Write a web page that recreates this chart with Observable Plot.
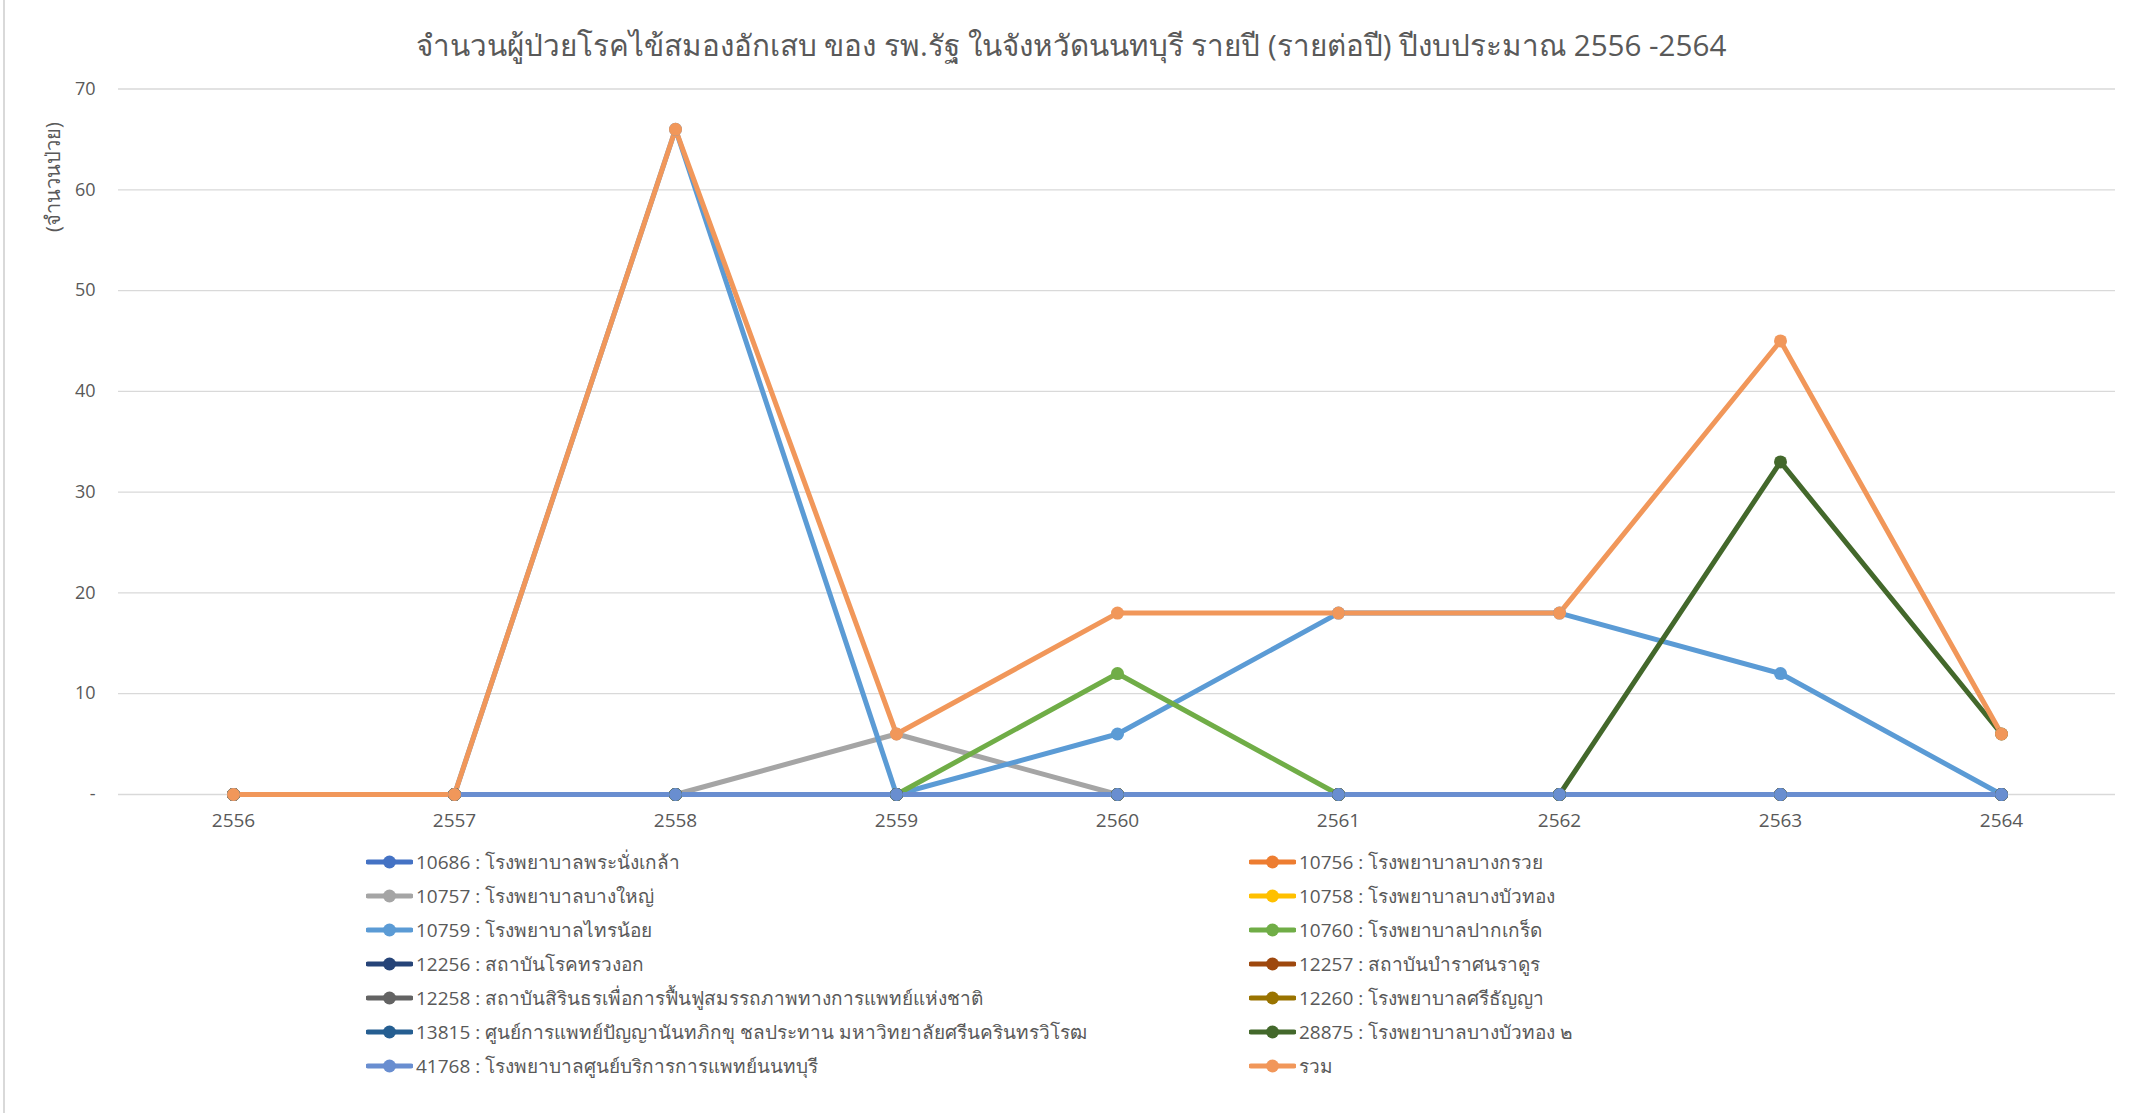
<!DOCTYPE html>
<html>
<head>
<meta charset="utf-8">
<script src="https://cdn.jsdelivr.net/npm/d3@7"></script>
<script src="https://cdn.jsdelivr.net/npm/@observablehq/plot@0.6"></script>
<style>
  html, body { margin: 0; padding: 0; background: #fff; }
  body { width: 2136px; height: 1113px; position: relative; overflow: hidden;
         font-family: "Open Sans", "Noto Sans", sans-serif; color: #595959; }
  #border { position: absolute; left: 3px; top: 0; width: 2px; height: 1113px; background: #d9d9d9; }
  #chart { position: absolute; left: 0; top: 0; }
  #title { position: absolute; left: 0; width: 2142px; top: 25px; text-align: center;
           font-size: 29.6px; line-height: 40px; white-space: nowrap; color: #595959; }
  #ytitle { position: absolute; left: 53px; top: 177px; transform: translate(-50%, -50%) rotate(-90deg);
            font-size: 20px; white-space: nowrap; color: #595959; }
  .leg { position: absolute; display: flex; align-items: center; height: 30px; white-space: nowrap;
         font-size: 19px; color: #595959; }
  .leg svg { display: block; margin-right: 3px; }
</style>
</head>
<body>
<div id="border"></div>
<div id="chart"></div>
<div id="title"></div>
<div id="ytitle"></div>
<div id="legend"></div>
<script>
// ---- data ----
const titleText = "จำนวนผู้ป่วยโรคไข้สมองอักเสบ ของ รพ.รัฐ ในจังหวัดนนทบุรี รายปี (รายต่อปี) ปีงบประมาณ 2556 -2564";
const yAxisTitle = "(จำนวนป่วย)";
const years = [2556, 2557, 2558, 2559, 2560, 2561, 2562, 2563, 2564];
const yTicks = [0, 10, 20, 30, 40, 50, 60, 70];

const seriesNames = [
  "10686 : โรงพยาบาลพระนั่งเกล้า",
  "10756 : โรงพยาบาลบางกรวย",
  "10757 : โรงพยาบาลบางใหญ่",
  "10758 : โรงพยาบาลบางบัวทอง",
  "10759 : โรงพยาบาลไทรน้อย",
  "10760 : โรงพยาบาลปากเกร็ด",
  "12256 : สถาบันโรคทรวงอก",
  "12257 : สถาบันบำราศนราดูร",
  "12258 : สถาบันสิรินธรเพื่อการฟื้นฟูสมรรถภาพทางการแพทย์แห่งชาติ",
  "12260 : โรงพยาบาลศรีธัญญา",
  "13815 : ศูนย์การแพทย์ปัญญานันทภิกขุ ชลประทาน มหาวิทยาลัยศรีนครินทรวิโรฒ",
  "28875 : โรงพยาบาลบางบัวทอง ๒",
  "41768 : โรงพยาบาลศูนย์บริการการแพทย์นนทบุรี",
  "รวม"
];

const v10686 = [0, 0, 0, 0, 0, 0, 0, 0, 0];
const v10756 = [0, 0, 0, 0, 0, 0, 0, 0, 0];
const v10757 = [0, 0, 0, 6, 0, 0, 0, 0, 0];
const v10758 = [0, 0, 0, 0, 0, 0, 0, 0, 0];
const v10759 = [0, 0, 66, 0, 6, 18, 18, 12, 0];
const v10760 = [0, 0, 0, 0, 12, 0, 0, 0, 0];
const v12256 = [0, 0, 0, 0, 0, 0, 0, 0, 0];
const v12257 = [0, 0, 0, 0, 0, 0, 0, 0, 0];
const v12258 = [0, 0, 0, 0, 0, 0, 0, 0, 0];
const v12260 = [0, 0, 0, 0, 0, 0, 0, 0, 0];
const v13815 = [0, 0, 0, 0, 0, 0, 0, 0, 0];
const v28875 = [0, 0, 0, 0, 0, 0, 0, 33, 6];
const v41768 = [0, 0, 0, 0, 0, 0, 0, 0, 0];
const vTotal = [0, 0, 66, 6, 18, 18, 18, 45, 6];

const seriesValues = [v10686, v10756, v10757, v10758, v10759, v10760, v12256,
                      v12257, v12258, v12260, v13815, v28875, v41768, vTotal];

// ---- styles ----
const seriesColors = ["#4472C4", "#ED7D31", "#A5A5A5", "#FFC000", "#5B9BD5", "#70AD47", "#264478",
                      "#9E480E", "#636363", "#997300", "#255E91", "#43682B", "#698ED0", "#F1975A"];

const rows = [];
seriesNames.forEach((name, i) => {
  seriesValues[i].forEach((v, j) => rows.push({series: name, year: years[j], value: v}));
});

const chart = Plot.plot({
  width: 2136,
  height: 850,
  marginTop: 88.5,
  marginBottom: 56,
  marginLeft: 118,
  marginRight: 21,
  style: {fontFamily: "'Open Sans', 'Noto Sans', sans-serif", background: "transparent"},
  x: {type: "point", domain: years, range: [229, 2004], padding: 0},
  y: {domain: [0, 70]},
  color: {domain: seriesNames, range: seriesColors},
  marks: [
    Plot.gridY(yTicks, {stroke: "#d9d9d9", strokeOpacity: 1, strokeWidth: 1.3}),
    Plot.axisY(yTicks, {tickSize: 0, tickPadding: 23, fontSize: 18, fill: "#595959", label: null,
                        tickFormat: d => d === 0 ? "-" : String(d)}),
    Plot.axisX(years, {tickSize: 0, tickPadding: 19, fontSize: 19, fill: "#595959", label: null,
                       tickFormat: d => String(d)}),
    Plot.line(rows, {x: "year", y: "value", z: "series", stroke: "series",
                     strokeWidth: 5, strokeLinejoin: "round", strokeLinecap: "round"}),
    Plot.dot(rows, {x: "year", y: "value", fill: "series", r: 6.5})
  ]
});
document.getElementById("chart").appendChild(chart);

document.getElementById("title").textContent = titleText;
document.getElementById("ytitle").textContent = yAxisTitle;

// ---- legend (two columns, row-major) ----
const legend = document.getElementById("legend");
const colX = [366, 1249];
const rowY = [862, 896, 930, 964, 998, 1032, 1066];
seriesNames.forEach((name, i) => {
  const col = i % 2, row = Math.floor(i / 2);
  const div = document.createElement("div");
  div.className = "leg";
  div.style.left = colX[col] + "px";
  div.style.top = (rowY[row] - 15) + "px";
  const c = seriesColors[i];
  div.innerHTML = `<svg width="47" height="16"><line x1="2" y1="8" x2="45" y2="8" stroke="${c}" stroke-width="5" stroke-linecap="round"/><circle cx="23.5" cy="8" r="6.5" fill="${c}"/></svg>`;
  const span = document.createElement("span");
  span.textContent = name;
  div.appendChild(span);
  legend.appendChild(div);
});
</script>
</body>
</html>
